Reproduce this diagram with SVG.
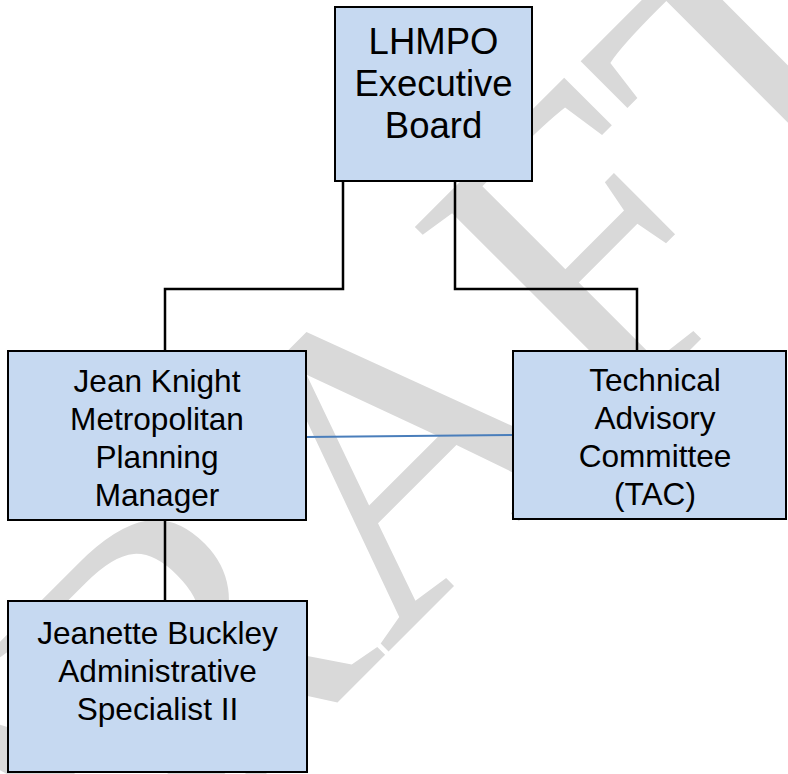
<svg xmlns="http://www.w3.org/2000/svg" width="788" height="774" viewBox="0 0 788 774">
<style>
.box{fill:#c6d9f1;stroke:#000;stroke-width:2}
.lbl{font-family:"Liberation Sans",Arial,sans-serif;fill:#000;text-anchor:middle}
.conn{fill:none;stroke:#000;stroke-width:2.5}
.wm{font-family:"Liberation Serif","Times New Roman",serif;fill:#d9d9d9;text-anchor:middle}
</style>
<rect width="788" height="774" fill="#fff"/>
<text class="wm" font-size="430" transform="translate(461.6,578.4) rotate(-45)">DRAFT</text>
<g id="connectors">
<path class="conn" d="M343,181 V289 H165 V351"/>
<path class="conn" d="M455,181 V289 H637 V351"/>
<path class="conn" d="M165,520 V601"/>
<path d="M306,437 L513,435" fill="none" stroke="#4a7ebb" stroke-width="2"/>
</g>
<g id="board">
<rect class="box" x="335" y="7" width="197" height="174"/>
<text class="lbl" font-size="36.5"><tspan x="433.5" y="54">LHMPO</tspan><tspan x="433.5" y="96">Executive</tspan><tspan x="433.5" y="138">Board</tspan></text>
</g>
<g id="manager">
<rect class="box" x="8" y="351" width="298" height="169"/>
<text class="lbl" font-size="31.6"><tspan x="157" y="392">Jean Knight</tspan><tspan x="157" y="430">Metropolitan</tspan><tspan x="157" y="468">Planning</tspan><tspan x="157" y="506">Manager</tspan></text>
</g>
<g id="tac">
<rect class="box" x="513" y="351" width="273" height="168"/>
<text class="lbl" font-size="31.6"><tspan x="655" y="391">Technical</tspan><tspan x="655" y="429">Advisory</tspan><tspan x="655" y="467">Committee</tspan><tspan x="655" y="505">(TAC)</tspan></text>
</g>
<g id="admin">
<rect class="box" x="8" y="601" width="299" height="171"/>
<text class="lbl" font-size="31.6"><tspan x="157.5" y="644">Jeanette Buckley</tspan><tspan x="157.5" y="682">Administrative</tspan><tspan x="157.5" y="720">Specialist II</tspan></text>
</g>
</svg>
